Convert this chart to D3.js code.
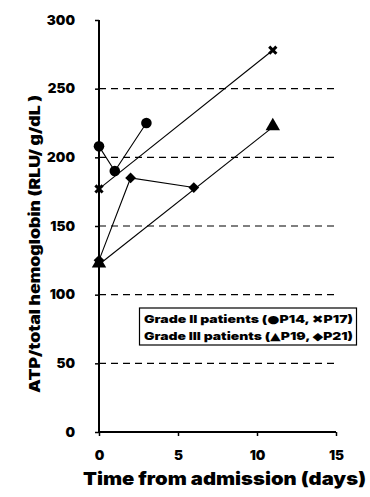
<!DOCTYPE html>
<html><head><meta charset="utf-8">
<script src="https://cdn.jsdelivr.net/npm/d3@7"></script>
<style>body{margin:0;background:#fff}svg{display:block}text{font-family:Inter,"Liberation Sans",Arial,sans-serif;font-weight:900}</style>
</head><body>
<script>
const xTicks = [0, 5, 10, 15];
const yTicks = [0, 50, 100, 150, 200, 250, 300];
const gridValues = [50, 100, 150, 200, 250];
const p14Days = [0, 1, 3];
const p14Values = [208, 190, 225];
const p17Days = [0, 11];
const p17Values = [177, 278];
const p19Days = [0, 11];
const p19Values = [122, 222];
const p21Days = [0, 2, 6];
const p21Values = [125, 185, 178];
const legendLines = [
  ["Grade II  patients (", "\u25CF", "P14, ", "\u2716", "P17)"],
  ["Grade III patients (", "\u25B2", "P19, ", "\u25C6", "P21)"]
];
const xTitle = "Time from admission (days)";
const yTitle = "ATP/total hemoglobin (RLU/ g/dL )";

const W = 370, H = 497;
const svg = d3.select("body").append("svg").attr("width", W).attr("height", H);
const x = d3.scaleLinear().domain([0, 15]).range([99, 336]);
const y = d3.scaleLinear().domain([0, 300]).range([432, 20]);

// grid
svg.append("g").selectAll("line").data(gridValues).join("line")
  .attr("x1", x(0)).attr("x2", 337).attr("y1", d => y(d)).attr("y2", d => y(d))
  .attr("stroke", "#000").attr("stroke-width", 1.2).attr("stroke-dasharray", "7,5");

// axes
const gx = svg.append("g").attr("transform", `translate(0,${y(0)})`)
  .call(d3.axisBottom(x).tickValues(xTicks).tickSize(4).tickPadding(14));
const gy = svg.append("g").attr("transform", `translate(${x(0)},0)`)
  .call(d3.axisLeft(y).tickValues(yTicks).tickSize(4).tickPadding(20));
[gx, gy].forEach(g => {
  g.attr("font-family", null).attr("font-size", null);
  g.select(".domain").attr("stroke-width", 2).attr("stroke", "#000");
  g.selectAll(".tick line").attr("stroke-width", 1.5).attr("stroke", "#000");
  g.selectAll("text").attr("font-size", 13.5).attr("fill", "#000");
});
gx.select(".domain").attr("d", `M${x(0)},0H${x(15)}`);
gy.select(".domain").attr("d", `M0,${y(300)}V${y(0)}`);

// series lines
const line = d3.line().x(d => x(d[0])).y(d => y(d[1]));
const series = [
  {days: p14Days, vals: p14Values, sym: "circle"},
  {days: p17Days, vals: p17Values, sym: "x"},
  {days: p19Days, vals: p19Values, sym: "triangle"},
  {days: p21Days, vals: p21Values, sym: "diamond"}
];
series.forEach(s => {
  const pts = s.days.map((d, i) => [d, s.vals[i]]);
  svg.append("path").attr("d", line(pts)).attr("fill", "none").attr("stroke", "#000").attr("stroke-width", 1.1);
});
series.forEach(s => {
  const pts = s.days.map((d, i) => [d, s.vals[i]]);
  pts.forEach(p => {
    const g = svg.append("g").attr("transform", `translate(${x(p[0])},${y(p[1])})`);
    if (s.sym === "circle") g.append("circle").attr("r", 5.3).attr("fill", "#000");
    else if (s.sym === "diamond") g.append("path").attr("transform", "rotate(45)").attr("d", d3.symbol(d3.symbolSquare, 58)()).attr("fill", "#000");
    else if (s.sym === "triangle") g.append("path").attr("transform", "translate(0,-1)").attr("d", d3.symbol(d3.symbolTriangle, 90)()).attr("fill", "#000");
    else g.append("path").attr("d", "M-3.6,-3.6L3.6,3.6M-3.6,3.6L3.6,-3.6").attr("stroke", "#000").attr("stroke-width", 3);
  });
});

// legend
svg.append("rect").attr("x", 139.5).attr("y", 308).attr("width", 217).attr("height", 37)
  .attr("fill", "#fff").attr("stroke", "#000").attr("stroke-width", 1.2);
const lt = svg.append("g").selectAll("text").data(legendLines).join("text")
  .attr("x", 144).attr("y", (d, i) => 322.5 + i * 17).attr("font-size", 11)
  .attr("textLength", 209).attr("lengthAdjust", "spacingAndGlyphs");
lt.selectAll("tspan").data(d => d).join("tspan")
  .attr("font-family", (d, i) => i % 2 ? "DejaVu Sans" : null)
  .attr("font-size", (d, i) => i % 2 ? 11 : null)
  .text(d => d);

// titles
svg.append("text").attr("x", 224.5).attr("y", 485).attr("text-anchor", "middle").attr("font-size", 18)
  .attr("textLength", 283).attr("lengthAdjust", "spacingAndGlyphs").text(xTitle);
svg.append("text").attr("transform", "translate(40,244) rotate(-90)").attr("text-anchor", "middle").attr("font-size", 15)
  .attr("textLength", 298).attr("lengthAdjust", "spacingAndGlyphs").text(yTitle);
</script>
</body></html>
